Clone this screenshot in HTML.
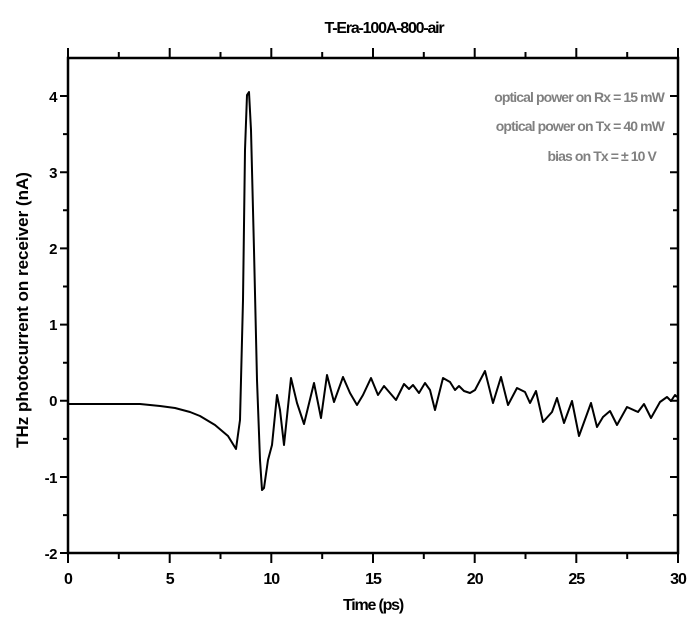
<!DOCTYPE html>
<html><head><style>body{margin:0;background:#fff}svg{display:block}text{font-family:"Liberation Sans",sans-serif}</style></head><body>
<svg width="700" height="632" viewBox="0 0 700 632">
<g stroke="#000" stroke-width="2.5" fill="none">
<rect x="68" y="58" width="610" height="495"/>
</g>
<g stroke="#000" stroke-width="2">
<path d="M68 553v10M169.7 553v10M271.3 553v10M373 553v10M474.7 553v10M576.3 553v10M678 553v10
M118.8 553v6M220.5 553v6M322.2 553v6M423.8 553v6M525.5 553v6M627.2 553v6
M68 58v-10M169.7 58v-10M271.3 58v-10M373 58v-10M474.7 58v-10M576.3 58v-10M678 58v-10
M118.8 58v-6M220.5 58v-6M322.2 58v-6M423.8 58v-6M525.5 58v-6M627.2 58v-6"/>
<path d="M68 96h-8M68 172.2h-8M68 248.4h-8M68 324.6h-8M68 400.8h-8M68 477h-8M68 553h-8
M68 134.1h-5M68 210.3h-5M68 286.5h-5M68 362.7h-5M68 438.9h-5M68 515.1h-5
M678 96h-8M678 172.2h-8M678 248.4h-8M678 324.6h-8M678 400.8h-8M678 477h-8
M678 134.1h-5M678 210.3h-5M678 286.5h-5M678 362.7h-5M678 438.9h-5M678 515.1h-5"/>
</g>
<path fill="none" stroke="#000" stroke-width="2" stroke-linejoin="round" d="M68 404L100 404L140 404L160 406L175 408L190 412L200 416L215 425L228 436L236 449L240 420L243 300L245 150L247 95L249 92L251 130L254 250L257 380L260 460L262 490L264 488L268 460L272 445L277 395L280 410L284 445L291 378L297 403L304 424L314 383L321 418L327 375L334 402L343 377L350 393L357 405L363 395L371 378L378 395L384 386L390 393L396 400L404 384L409 389L413 385L419 393L425 383L430 390L435 410L443 378L450 382L455 390L459 386L464 391L470 393L475 390L485 371L493 403L501 377L508 405L517 388L525 392L530 403L536 391L543 422L552 412L557 398L564 423L572 401L579 436L591 403L597 427L603 417L610 411L617 425L627 407L638 412L644 404L651 418L660 402L667 397L671 401L675 395L677 397"/>
<g font-size="15" font-weight="bold" text-anchor="end" letter-spacing="-0.5">
<text x="57" y="102">4</text><text x="57" y="178">3</text><text x="57" y="254">2</text><text x="57" y="330">1</text><text x="57" y="406">0</text><text x="57" y="483">-1</text><text x="57" y="559">-2</text>
</g>
<g font-size="16" font-weight="bold" text-anchor="middle" letter-spacing="-1">
<text x="68" y="584">0</text><text x="169.7" y="584">5</text><text x="271.3" y="584">10</text><text x="373" y="584">15</text><text x="474.7" y="584">20</text><text x="576.3" y="584">25</text><text x="678" y="584">30</text>
</g>
<g font-size="16" text-anchor="middle" letter-spacing="-1.2" font-weight="bold">
<text x="373" y="610">Time (ps)</text>
<text x="384" y="33">T-Era-100A-800-air</text>
</g>
<text transform="translate(28 310) rotate(-90)" font-size="17" font-weight="bold" text-anchor="middle">THz photocurrent on receiver (nA)</text>
<g font-size="14" font-weight="bold" fill="#808080" text-anchor="end" letter-spacing="-0.9">
<text x="664" y="102">optical power on Rx = 15 mW</text>
<text x="664" y="131">optical power on Tx = 40 mW</text>
<text x="656" y="161">bias on Tx = ± 10 V</text>
</g>
</svg>
</body></html>
